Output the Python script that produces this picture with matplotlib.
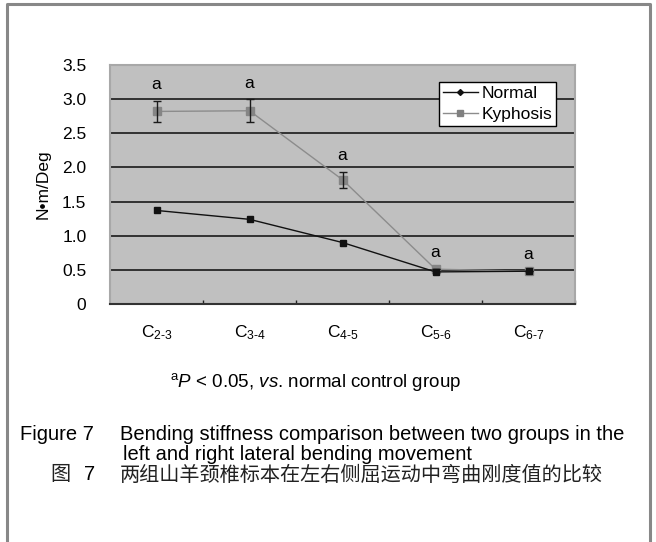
import matplotlib
matplotlib.use("Agg")
import matplotlib.pyplot as plt
from matplotlib.lines import Line2D

plt.rcParams['font.family'] = ['Liberation Sans', 'DejaVu Sans']
plt.rcParams['mathtext.fontset'] = 'custom'
plt.rcParams['mathtext.rm'] = 'Liberation Sans'
plt.rcParams['mathtext.it'] = 'Liberation Sans:italic'

# Data
segments = ['2-3', '3-4', '4-5', '5-6', '6-7']
normal = [1.37, 1.24, 0.90, 0.47, 0.48]
kyphosis = [2.82, 2.83, 1.82, 0.51, 0.48]
kyphosis_err = [0.16, 0.17, 0.12, 0.0, 0.0]
sig_marks = ['a', 'a', 'a', 'a', 'a']
yticks = [0, 0.5, 1.0, 1.5, 2.0, 2.5, 3.0, 3.5]
ytick_labels = ['0', '0.5', '1.0', '1.5', '2.0', '2.5', '3.0', '3.5']

fig = plt.figure(figsize=(6.56, 5.42), dpi=100)
fig.patch.set_facecolor('white')

# outer frame
frame = Line2D([7/656, 7/656, 650/656, 650/656], [0, 1-4/542, 1-4/542, 0],
               transform=fig.transFigure, color='#888888', lw=2.2)
fig.add_artist(frame)

ax = fig.add_axes([110/656, 1-304/542, 465/656, 239/542])
ax.set_facecolor('#c0c0c0')
x = list(range(len(segments)))
ax.set_xlim(-0.5, len(segments) - 0.5)
ax.set_ylim(0, 3.5)

for y in yticks[1:-1]:
    ax.axhline(y, color='#1a1a1a', lw=1.2, zorder=1)

ax.plot(x, kyphosis, color='#8c8c8c', lw=1.0, marker='s', ms=6,
        mfc='#858585', mec='#858585', zorder=3)
ax.errorbar(x, kyphosis, yerr=kyphosis_err, fmt='none', ecolor='#1a1a1a',
            elinewidth=1.0, capsize=3, capthick=1.0, zorder=4)
ax.plot(x, normal, color='#111111', lw=1.0, marker='s', ms=4,
        mfc='#111111', mec='#111111', zorder=5)

for xi, k, e, s in zip(x, kyphosis, kyphosis_err, sig_marks):
    ax.text(xi, k + e + 0.12 if e > 0 else k + 0.14, s, ha='center', va='bottom',
            fontsize=12.5, color='black')

ax.set_yticks(yticks)
ax.set_yticklabels(ytick_labels, fontsize=12.5)
ax.tick_params(axis='y', length=0, pad=17)
ax.set_xticks(x)
ax.set_xticklabels([r'C$_{\text{%s}}$' % s for s in segments], fontsize=12.5)
ax.tick_params(axis='x', length=0, pad=14)
ax.set_xticks([i + 0.5 for i in x], minor=True)
ax.tick_params(axis='x', which='minor', direction='in', length=3, width=1, color='#222222')

for side in ['top', 'right', 'left']:
    ax.spines[side].set_color('#a8a8a8')
    ax.spines[side].set_linewidth(1.5)
ax.spines['bottom'].set_color('#333333')
ax.spines['bottom'].set_linewidth(1.5)

ax.set_ylabel('N•m/Deg', fontsize=12.5, labelpad=8)

leg_handles = [Line2D([], [], color='#111111', lw=1.0, marker='D', ms=3, mfc='#111111', mec='#111111'),
               Line2D([], [], color='#8c8c8c', lw=1.0, marker='s', ms=4, mfc='#808080', mec='#808080')]
leg = ax.legend(leg_handles, ['Normal', 'Kyphosis'], loc='upper right',
                bbox_to_anchor=(0.96, 0.93), fontsize=12.5, frameon=True, fancybox=False,
                edgecolor='black', framealpha=1, handlelength=2.0, handletextpad=0.2,
                borderpad=0.25, labelspacing=0.3, borderaxespad=0)
leg.get_frame().set_linewidth(1.0)

fig.text(316/656, 1-382/542, r'$^{\mathregular{a}}$$\it{P}$ < 0.05, $\it{vs}$. normal control group',
         ha='center', va='center', fontsize=13.5)
fig.text(20/656, 1-434/542, 'Figure 7', ha='left', va='center', fontsize=14.5)
fig.text(120/656, 1-434/542, 'Bending stiffness comparison between two groups in the',
         ha='left', va='center', fontsize=14.5)
fig.text(123/656, 1-454/542, 'left and right lateral bending movement',
         ha='left', va='center', fontsize=14.5)
cjk = ['Noto Sans CJK SC', 'DejaVu Sans']
fig.text(50/656, 1-475/542, '图', ha='left', va='center', fontsize=14.5,
         family=cjk, fontweight='light', color='#222222')
fig.text(84/656, 1-475/542, '7', ha='left', va='center', fontsize=14.5)
fig.text(120/656, 1-475/542, '两组山羊颈椎标本在左右侧屈运动中弯曲刚度值的比较',
         ha='left', va='center', fontsize=14.5, family=cjk, fontweight='light',
         color='#222222')

fig.savefig('out.png', dpi=100)
